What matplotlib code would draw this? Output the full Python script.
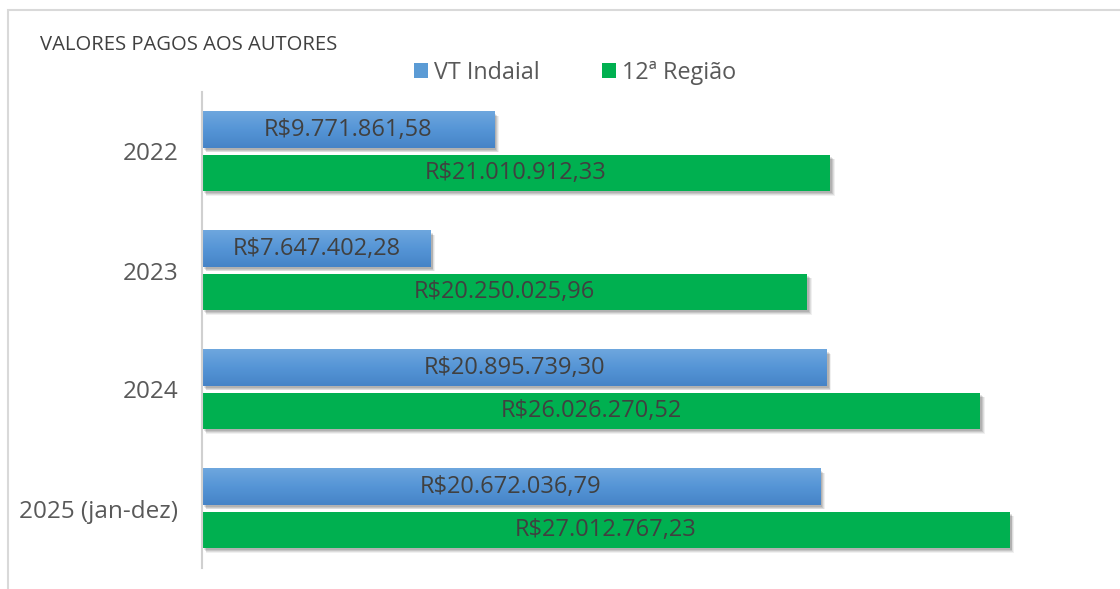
import matplotlib
matplotlib.use("Agg")
import matplotlib.pyplot as plt
import matplotlib.patheffects as pe
from matplotlib.patches import Rectangle, Patch
from matplotlib.colors import LinearSegmentedColormap
import numpy as np

categories = ["2022", "2023", "2024", "2025 (jan-dez)"]
vt_indaial = [9771861.58, 7647402.28, 20895739.30, 20672036.79]
regiao12 = [21010912.33, 20250025.96, 26026270.52, 27012767.23]
series_names = ["VT Indaial", "12ª Região"]
title = "VALORES PAGOS AOS AUTORES"

def brl(v):
    s = f"{v:,.2f}"
    s = s.replace(",", "X").replace(".", ",").replace("X", ".")
    return "R$" + s

plt.rcParams['font.family'] = ['Open Sans', 'DejaVu Sans']

W, H = 1120, 589
fig = plt.figure(figsize=(W/100, H/100), dpi=100)
fig.patch.set_facecolor("white")

# outer border
fig.add_artist(Rectangle((8/W, -0.1), 1.2, 1 - 10/H + 0.1, transform=fig.transFigure,
                         fill=False, edgecolor="#d9d9d9", linewidth=1.5))

ax = fig.add_axes([202/W, 1 - 568/H, 897/W, 476/H])
n = len(categories)
y = np.arange(n)
off = 0.181
h = 0.303

shadow = [pe.SimplePatchShadow(offset=(d, -d), shadow_rgbFace="black", alpha=a)
          for d, a in [(3.2, 0.06), (2.6, 0.08), (2.0, 0.10), (1.4, 0.10)]] + [pe.Normal()]

b1 = ax.barh(y - off, vt_indaial, height=h, color="#5b9bd5", zorder=2)
b2 = ax.barh(y + off, regiao12, height=h, color="#00b050", zorder=2)
for b in list(b1) + list(b2):
    b.set_path_effects(shadow)

# gradient on blue bars
grad = np.linspace(0, 1, 64).reshape(-1, 1)
cmap = LinearSegmentedColormap.from_list("bl", ["#6ea7de", "#5595d6", "#4683c7"])
for b in b1:
    x0, y0, w, hh = b.get_x(), b.get_y(), b.get_width(), b.get_height()
    ax.imshow(grad, extent=(x0, x0 + w, y0 + hh, y0), aspect="auto", cmap=cmap,
              zorder=2.5, interpolation="bicubic")
ax.set_xlim(0, 30e6)
ax.set_ylim(n - 0.5, -0.5)

for bars, vals in ((b1, vt_indaial), (b2, regiao12)):
    for b, v in zip(bars, vals):
        ax.text(v / 2, b.get_y() + b.get_height() / 2, brl(v), ha="center", va="center",
                fontsize=17, color="#404040", zorder=4)

ax.set_yticks(y)
ax.set_yticklabels(categories, fontsize=17.5, color="#595959")
ax.tick_params(axis="y", length=0, pad=17)
ax.set_xticks([])
for s in ["top", "right", "bottom"]:
    ax.spines[s].set_visible(False)
ax.spines["left"].set_color("#d0d0d0")
ax.spines["left"].set_linewidth(1.5)
ax.set_facecolor("none")

fig.text(40/W, 1 - 45/H, title, fontsize=14.6, color="#404040", va="center", ha="left")

handles = [Patch(facecolor="#5b9bd5"), Patch(facecolor="#00b050")]
fig.legend(handles, series_names, loc="center", bbox_to_anchor=(575/W, 1 - 73/H), ncol=2,
           frameon=False, fontsize=16.8, labelcolor="#595959", handlelength=0.6,
           handleheight=0.6, handletextpad=0.25, columnspacing=2.7)

fig.savefig("out.png", dpi=100, facecolor="white")
